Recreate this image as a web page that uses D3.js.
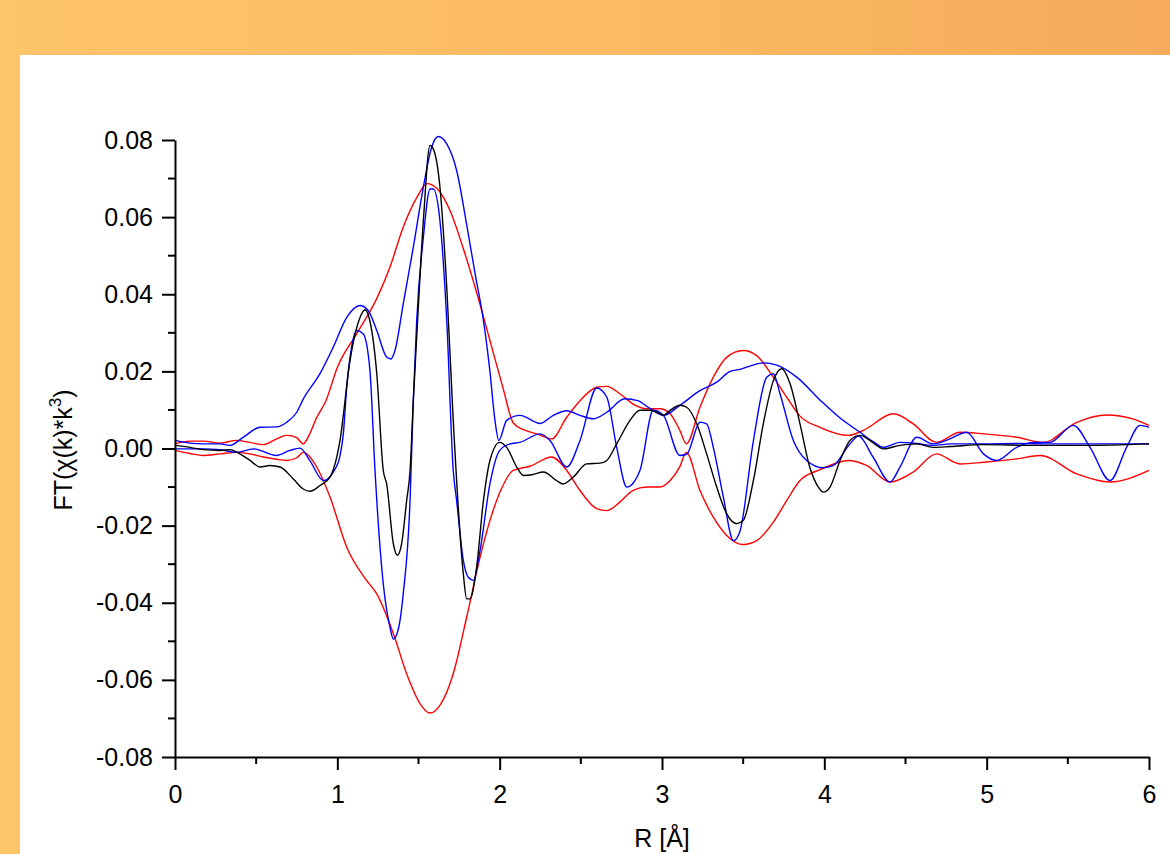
<!DOCTYPE html>
<html>
<head>
<meta charset="utf-8">
<script src="https://cdn.jsdelivr.net/npm/d3@7"></script>
<style>
  html, body { margin: 0; padding: 0; background: #fff; }
  svg { display: block; font-family: "Liberation Sans", Arial, sans-serif; }
</style>
</head>
<body>
<svg id="canvas" width="1170" height="854"></svg>
<script>
// |FT| of the fit, plotted as +/- envelope (red)
let redUpper = [[0,0.0012],[0.092,0.0019],[0.175,0.0019],[0.277,0.0014],[0.38,0.0021],[0.46,0.0016],[0.544,0.0010],[0.626,0.0025],[0.688,0.0034],[0.75,0.0028],[0.79,0.0012],[0.83,0.0038],[0.87,0.0078],[0.93,0.0124],[1.0,0.021],[1.12,0.0298],[1.244,0.039],[1.324,0.047],[1.405,0.0573],[1.49,0.0651],[1.552,0.0687],[1.614,0.0674],[1.694,0.0617],[1.774,0.0521],[1.86,0.0402],[1.94,0.028],[2.02,0.0158],[2.084,0.0066],[2.15,0.0048],[2.228,0.0038],[2.32,0.0025],[2.413,0.0081],[2.495,0.0124],[2.598,0.0159],[2.66,0.0161],[2.74,0.0142],[2.82,0.0116],[2.906,0.0103],[2.988,0.0103],[3.05,0.009],[3.11,0.0047],[3.15,0.0012],[3.234,0.0107],[3.316,0.0185],[3.40,0.0237],[3.50,0.0254],[3.583,0.0241],[3.686,0.0185],[3.768,0.0133],[3.85,0.0084],[3.973,0.0055],[4.15,0.0034],[4.24,0.0047],[4.425,0.009],[4.548,0.0064],[4.69,0.0016],[4.836,0.0042],[4.98,0.0038],[5.185,0.0029],[5.349,0.0016],[5.555,0.0068],[5.74,0.0087],[5.90,0.0077],[6.0,0.006]]
let redLower = [[0,-0.0005],[0.092,-0.0013],[0.175,-0.0018],[0.277,-0.0014],[0.38,-0.001],[0.46,-0.0014],[0.544,-0.0022],[0.626,-0.0028],[0.688,-0.0031],[0.75,-0.0024],[0.79,-0.001],[0.873,-0.0048],[0.955,-0.0126],[1.058,-0.0256],[1.18,-0.0342],[1.243,-0.0377],[1.345,-0.048],[1.427,-0.0584],[1.51,-0.0662],[1.571,-0.0686],[1.632,-0.0666],[1.714,-0.0584],[1.797,-0.0437],[1.879,-0.0282],[1.94,-0.0187],[2.0,-0.0115],[2.084,-0.0057],[2.187,-0.0046],[2.32,-0.0022],[2.413,-0.0057],[2.495,-0.0109],[2.598,-0.0156],[2.66,-0.0161],[2.74,-0.0139],[2.82,-0.0109],[2.906,-0.01],[2.988,-0.01],[3.05,-0.0083],[3.11,-0.0047],[3.15,-0.001],[3.234,-0.0109],[3.316,-0.0178],[3.40,-0.0226],[3.50,-0.0249],[3.583,-0.0239],[3.686,-0.0191],[3.768,-0.0135],[3.85,-0.0083],[3.973,-0.0055],[4.15,-0.0031],[4.26,-0.0044],[4.405,-0.0087],[4.548,-0.0061],[4.69,-0.0014],[4.836,-0.004],[5.0,-0.0035],[5.185,-0.0027],[5.33,-0.0018],[5.555,-0.0066],[5.76,-0.0087],[6.0,-0.0057]]

// blue: magnitude and real part
let blueMag = [[0,0.0021],[0.092,0.0014],[0.175,0.0012],[0.277,0.0012],[0.339,0.0008],[0.42,0.0029],[0.524,0.0055],[0.626,0.0056],[0.688,0.0068],[0.75,0.0094],[0.79,0.0128],[0.893,0.0194],[0.975,0.0263],[1.058,0.034],[1.14,0.0371],[1.19,0.0358],[1.243,0.0306],[1.304,0.0237],[1.33,0.0232],[1.355,0.0254],[1.406,0.0375],[1.468,0.0522],[1.53,0.0678],[1.581,0.0781],[1.622,0.0809],[1.674,0.079],[1.735,0.0721],[1.797,0.058],[1.85,0.045],[1.9,0.0332],[1.94,0.02],[1.971,0.0073],[1.995,0.0021],[2.043,0.0073],[2.125,0.0086],[2.249,0.0065],[2.33,0.0086],[2.413,0.0098],[2.495,0.0086],[2.577,0.0077],[2.66,0.0094],[2.77,0.0129],[2.85,0.0124],[2.926,0.0104],[3.008,0.0086],[3.11,0.0112],[3.234,0.015],[3.337,0.0172],[3.42,0.02],[3.48,0.0205],[3.55,0.0215],[3.624,0.0222],[3.707,0.0216],[3.83,0.0185],[3.973,0.0126],[4.097,0.0079],[4.22,0.0042],[4.30,0.0018],[4.363,0.0003],[4.466,0.0016],[4.57,0.0013],[4.67,0.0008],[4.78,0.0012],[4.98,0.0012],[5.2,0.0013],[5.4,0.0012],[5.6,0.0012],[5.8,0.0012],[6.0,0.0012]]
let blueRe = [[0,-0.0001],[0.175,-0.0001],[0.277,-0.0003],[0.38,-0.001],[0.483,-0.0001],[0.626,-0.0018],[0.708,-0.0005],[0.77,0.0001],[0.83,-0.0031],[0.914,-0.0083],[0.975,-0.0061],[1.016,-0.002],[1.037,0.0038],[1.058,0.0159],[1.088,0.0263],[1.119,0.0306],[1.16,0.0297],[1.201,0.0202],[1.232,-0.0057],[1.243,-0.0135],[1.283,-0.0351],[1.324,-0.0463],[1.345,-0.0494],[1.376,-0.0468],[1.406,-0.0377],[1.448,-0.0135],[1.468,0.0124],[1.489,0.0332],[1.53,0.0548],[1.571,0.0673],[1.591,0.0673],[1.632,0.0591],[1.674,0.0332],[1.714,-0.0057],[1.735,-0.0135],[1.776,-0.029],[1.807,-0.0334],[1.838,-0.0342],[1.879,-0.0265],[1.94,-0.0092],[2.0,-0.0005],[2.064,0.0012],[2.125,0.0016],[2.249,0.0038],[2.31,0.0021],[2.413,-0.0048],[2.495,0.0021],[2.598,0.0157],[2.66,0.0133],[2.721,0.0003],[2.783,-0.01],[2.864,-0.0057],[2.946,0.0099],[3.008,0.0086],[3.11,-0.0018],[3.152,-0.0015],[3.234,0.0068],[3.275,0.0064],[3.316,0.0003],[3.378,-0.0126],[3.44,-0.0239],[3.48,-0.0215],[3.563,0.002],[3.645,0.0185],[3.686,0.0194],[3.727,0.0142],[3.809,0.0021],[3.891,-0.0031],[3.994,-0.005],[4.055,-0.0044],[4.158,0.0012],[4.21,0.0032],[4.3,-0.0022],[4.405,-0.0087],[4.466,-0.0048],[4.57,0.0029],[4.67,0.0012],[4.774,0.0025],[4.877,0.0042],[4.98,-0.0014],[5.06,-0.0031],[5.185,0.0003],[5.287,0.0016],[5.39,0.0016],[5.534,0.006],[5.637,0.0003],[5.76,-0.0083],[5.862,0.0003],[5.945,0.006],[6.0,0.0055]]

// black: experimental real part
let blackRe = [[0,0.0008],[0.092,0.0003],[0.175,-0.0003],[0.277,-0.0005],[0.339,-0.0003],[0.4,-0.0014],[0.462,-0.0031],[0.524,-0.0048],[0.585,-0.0044],[0.647,-0.0048],[0.729,-0.0079],[0.79,-0.0105],[0.832,-0.0111],[0.893,-0.0096],[0.955,-0.0074],[1.016,0.002],[1.078,0.0228],[1.14,0.034],[1.17,0.036],[1.2,0.0332],[1.243,0.0194],[1.283,-0.0057],[1.304,-0.0092],[1.345,-0.0247],[1.37,-0.0277],[1.396,-0.0247],[1.427,-0.0135],[1.448,-0.0057],[1.468,0.0124],[1.489,0.0289],[1.53,0.0591],[1.571,0.0786],[1.591,0.0777],[1.632,0.0678],[1.674,0.0418],[1.714,0.0073],[1.776,-0.0325],[1.797,-0.039],[1.817,-0.039],[1.858,-0.0308],[1.9,-0.0135],[1.94,-0.0031],[2.0,0.0016],[2.043,0.0003],[2.105,-0.0048],[2.146,-0.007],[2.2,-0.0068],[2.27,-0.0061],[2.35,-0.0083],[2.392,-0.0092],[2.454,-0.0074],[2.536,-0.004],[2.618,-0.0038],[2.66,-0.0031],[2.721,0.0012],[2.803,0.0073],[2.864,0.0099],[2.926,0.0099],[2.988,0.009],[3.008,0.0086],[3.05,0.0099],[3.11,0.0112],[3.152,0.0107],[3.214,0.0064],[3.275,-0.0014],[3.337,-0.01],[3.398,-0.0169],[3.46,-0.0195],[3.5,-0.0187],[3.563,-0.0083],[3.624,0.0064],[3.686,0.0176],[3.737,0.0207],[3.789,0.0168],[3.85,0.0064],[3.91,-0.0048],[3.963,-0.01],[3.994,-0.0113],[4.035,-0.01],[4.097,-0.0031],[4.158,0.0021],[4.22,0.0034],[4.28,0.0021],[4.34,0.0003],[4.363,-0.0001],[4.466,0.0008],[4.57,0.0012],[4.67,0.0003],[4.774,0.0005],[4.98,0.001],[5.29,0.0008],[5.6,0.0008],[6.0,0.0012]]

let xTicks = [0,1,2,3,4,5,6]
let xMinor = [0.5,1.5,2.5,3.5,4.5,5.5]
let yTicks = [-0.08,-0.06,-0.04,-0.02,0,0.02,0.04,0.06,0.08]
let yMinor = [-0.07,-0.05,-0.03,-0.01,0.01,0.03,0.05,0.07]

let svg = d3.select("#canvas")

// orange frame: top band + left strip
let defs = svg.append("defs")
let grad = defs.append("linearGradient").attr("id","band").attr("x1","0").attr("x2","1").attr("y1","0").attr("y2","0")
grad.append("stop").attr("offset","0").attr("stop-color","#fec46a")
grad.append("stop").attr("offset","0.5").attr("stop-color","#fbbb63")
grad.append("stop").attr("offset","1").attr("stop-color","#f5ab5b")
svg.append("rect").attr("x",0).attr("y",0).attr("width",1170).attr("height",55).attr("fill","url(#band)")
svg.append("rect").attr("x",0).attr("y",55).attr("width",20).attr("height",799).attr("fill","#fec66b")

let x = d3.scaleLinear().domain([0,6]).range([175,1149])
let y = d3.scaleLinear().domain([-0.08,0.08]).range([757,140])

let line = d3.line()
    .x(d => x(d[0]))
    .y(d => y(d[1]))
    .curve(d3.curveMonotoneX)

let series = [
    {data: redUpper, color: "#ff0000"},
    {data: redLower, color: "#ff0000"},
    {data: blueMag, color: "#0000ff"},
    {data: blueRe, color: "#0000ff"},
    {data: blackRe, color: "#000000"}
]

svg.append("g").selectAll("path")
    .data(series)
    .enter()
    .append("path")
    .attr("d", s => line(s.data))
    .attr("fill","none")
    .attr("stroke", s => s.color)
    .attr("stroke-width",1.4)
    .attr("stroke-linejoin","round")

// axes
let fmt = v => (Math.abs(v) < 1e-9 ? 0 : v).toFixed(2)

let yAxis = svg.append("g").attr("transform","translate(175,0)")
    .call(d3.axisLeft(y).tickValues(yTicks).tickFormat(fmt).tickSize(13).tickSizeOuter(0).tickPadding(9))
yAxis.append("g").selectAll("line").data(yMinor).enter().append("line")
    .attr("x1",0).attr("x2",-7).attr("y1",d => y(d)).attr("y2",d => y(d))

let xAxis = svg.append("g").attr("transform","translate(0,757)")
    .call(d3.axisBottom(x).tickValues(xTicks).tickFormat(d3.format("d")).tickSize(13).tickSizeOuter(0).tickPadding(15))
xAxis.append("g").selectAll("line").data(xMinor).enter().append("line")
    .attr("y1",0).attr("y2",7).attr("x1",d => x(d)).attr("x2",d => x(d))

svg.selectAll(".domain").attr("stroke","#000").attr("stroke-width",2)
svg.selectAll(".tick line").attr("stroke","#000").attr("stroke-width",2)
yAxis.selectAll("g > line").attr("stroke","#000").attr("stroke-width",2)
xAxis.selectAll("g > line").attr("stroke","#000").attr("stroke-width",2)
svg.selectAll(".tick text").attr("font-size",25).attr("font-family","Liberation Sans, Arial, sans-serif").attr("fill","#000")

// axis titles
svg.append("text")
    .attr("x",662).attr("y",847)
    .attr("text-anchor","middle")
    .attr("font-size",25)
    .text("R [Å]")

let yt = svg.append("text")
    .attr("transform","translate(72,450) rotate(-90)")
    .attr("text-anchor","middle")
    .attr("font-size",25)
yt.append("tspan").text("FT(χ(k)*k")
yt.append("tspan").attr("font-size",17).attr("dy",-11).text("3")
yt.append("tspan").attr("dy",11).text(")")
</script>
</body>
</html>
